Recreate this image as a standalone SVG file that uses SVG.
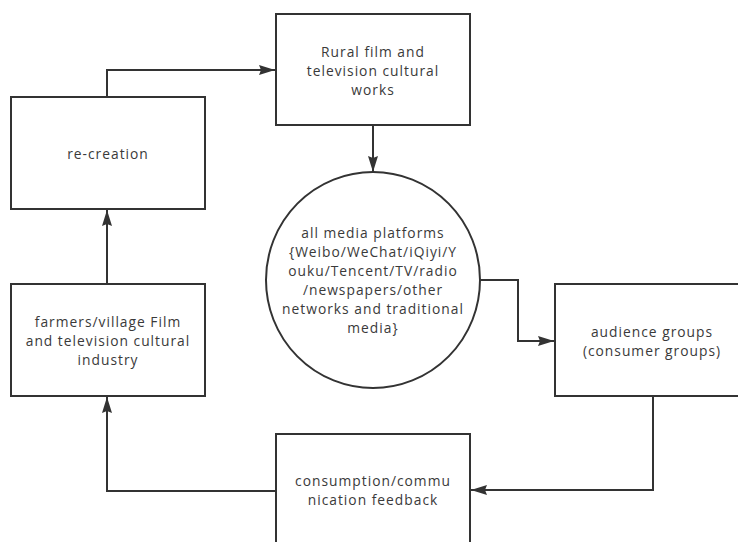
<svg xmlns="http://www.w3.org/2000/svg" width="738" height="542" viewBox="0 0 738 542">
<defs>
<style>
.box{fill:#fff;stroke:#333;stroke-width:2}
.t{font-family:"Open Sans","Noto Sans",sans-serif;font-size:13.8px;letter-spacing:1px;fill:#3a3a3a;text-anchor:middle}
.c{fill:none;stroke:#333;stroke-width:2}
</style>
<marker id="ah" viewBox="0 0 16 10" refX="16" refY="5" markerWidth="8" markerHeight="5" orient="auto" markerUnits="strokeWidth">
<path d="M0,0 L16,5 L0,10 L2,5 z" fill="#333"/>
</marker>
</defs>
<rect width="738" height="542" fill="#fff"/>
<g id="connectors">
<path class="c" d="M107,97 V70 H275" marker-end="url(#ah)"/>
<path class="c" d="M373,125 V172" marker-end="url(#ah)"/>
<path class="c" d="M480,280 H518 V341 H554" marker-end="url(#ah)"/>
<path class="c" d="M653,396 V490 H471" marker-end="url(#ah)"/>
<path class="c" d="M276,491 H107 V397" marker-end="url(#ah)"/>
<path class="c" d="M107,284 V210" marker-end="url(#ah)"/>
</g>
<g id="rural">
<rect class="box" x="276" y="14" width="194" height="111"/>
<text class="t" x="373" y="57">Rural film and</text>
<text class="t" x="373" y="76">television cultural</text>
<text class="t" x="373" y="95">works</text>
</g>
<g id="recreation">
<rect class="box" x="11" y="97" width="194" height="112"/>
<text class="t" x="108" y="159">re-creation</text>
</g>
<g id="media">
<ellipse class="box" cx="373" cy="280" rx="107" ry="108"/>
<text class="t" x="373" y="238">all media platforms</text>
<text class="t" x="373" y="257">{Weibo/WeChat/iQiyi/Y</text>
<text class="t" x="373" y="276">ouku/Tencent/TV/radio</text>
<text class="t" x="373" y="295">/newspapers/other</text>
<text class="t" x="373" y="314">networks and traditional</text>
<text class="t" x="373" y="333">media}</text>
</g>
<g id="audience">
<rect class="box" x="555" y="284" width="194" height="112"/>
<text class="t" x="652" y="337">audience groups</text>
<text class="t" x="652" y="356">(consumer groups)</text>
</g>
<g id="farmers">
<rect class="box" x="11" y="284" width="194" height="112"/>
<text class="t" x="108" y="327">farmers/village Film</text>
<text class="t" x="108" y="346">and television cultural</text>
<text class="t" x="108" y="365">industry</text>
</g>
<g id="feedback">
<rect class="box" x="276" y="434" width="194" height="112"/>
<text class="t" x="373" y="486">consumption/commu</text>
<text class="t" x="373" y="505">nication feedback</text>
</g>
</svg>
